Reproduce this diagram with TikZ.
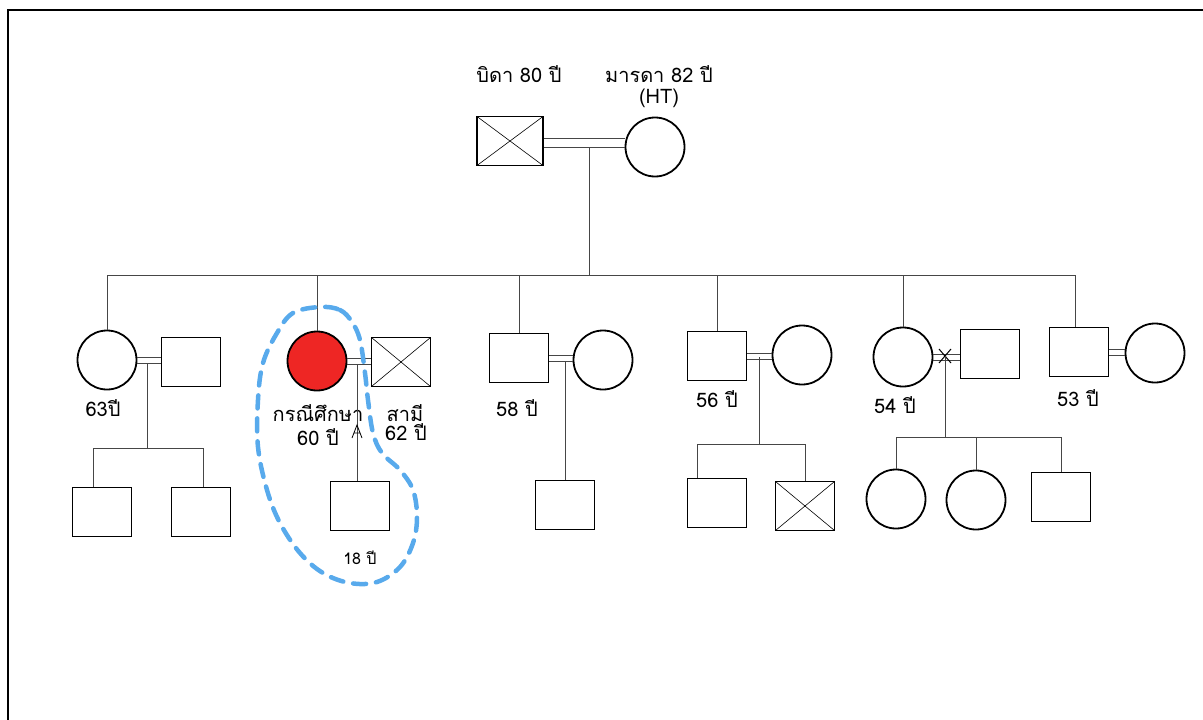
\documentclass[tikz,border=0pt]{standalone}
\usepackage{fontspec}
\setmainfont{Loma}[Script=Thai]
\definecolor{probandred}{RGB}{238,38,36}
\definecolor{groupblue}{RGB}{88,170,236}
\definecolor{linkgray}{RGB}{70,70,70}
\begin{document}
\begin{tikzpicture}[x=1pt,y=-1pt,
  male/.style={draw, line width=1.8pt, minimum width=59pt, minimum height=49pt, inner sep=0pt},
  female/.style={draw, circle, line width=1.8pt, minimum size=59pt, inner sep=0pt},
  deceased/.style={male, path picture={
      \draw[line width=0.6pt]
        (path picture bounding box.north west) -- (path picture bounding box.south east)
        (path picture bounding box.north east) -- (path picture bounding box.south west);}},
  link/.style={draw=linkgray, line width=0.9pt},
  lbl/.style={font=\fontsize{20}{24}\selectfont, inner sep=0pt},
  small/.style={font=\fontsize{16}{19}\selectfont, inner sep=0pt}]

\useasboundingbox (0,0) rectangle (1203,720);
\draw[line width=2.2pt] (8,720) -- (8,10) -- (1203,10);

% ---------- parents ----------
\node[deceased, minimum width=66pt] (fa) at (510,141) {};
\node[female] (mo) at (655,147) {};
\node[lbl] at (519,74) {บิดา 80 ปี};
\node[lbl] at (659,74) {มารดา 82 ปี};
\node[lbl] at (659,98) {(HT)};
\draw[link] ([yshift=3pt]fa.east) -- ([yshift=3pt]fa.east -| mo.west);
\draw[link] ([yshift=-6pt]fa.east) -- ([yshift=-6pt]fa.east -| mo.west);
\coordinate (fm) at (589,147);
\coordinate (sib) at (589,275);
\draw[link] (fm) -- (sib);

% ---------- siblings ----------
\node[female] (s1) at (107,360) {};
\node[male] (s1p) at (191,362) {};
\node[female, fill=probandred] (pt) at (317,361) {};
\node[deceased] (pth) at (401,362) {};
\node[male] (s3) at (519,358) {};
\node[female] (s3w) at (603,360) {};
\node[male] (s4) at (717,356) {};
\node[female] (s4w) at (802,355) {};
\node[female] (s5) at (903,357) {};
\node[male] (s5h) at (990,354) {};
\node[male] (s6) at (1079,352) {};
\node[female] (s6w) at (1155,353) {};

\draw[link] (s1.north |- sib) -- ([xshift=-4pt]s6.north |- sib);
\foreach \p in {s1,pt,s3,s4,s5}
  \draw[link] (\p.north |- sib) -- (\p.north);
\draw[link] ([xshift=-4pt]s6.north |- sib) -- ([xshift=-4pt]s6.north);

\node[lbl] at (103,408) {63ปี};
\node[lbl] at (318,413) {กรณีศึกษา};
\node[lbl] at (318,437) {60 ปี};
\node[lbl] at (405,413) {สามี};
\node[lbl] at (406,432) {62 ปี};
\node[lbl] at (517,408) {58 ปี};
\node[lbl] at (717,399) {56 ปี};
\node[lbl] at (895,405) {54 ปี};
\node[lbl] at (1078,398) {53 ปี};

% ---------- couples ----------
\foreach \a/\b in {s1/s1p, pt/pth, s3/s3w, s4/s4w, s5/s5h, s6/s6w} {
  \draw[link] ([yshift=3pt]\a.east) -- ([yshift=3pt]\a.east -| \b.west);
  \draw[link] ([yshift=-3pt]\a.east) -- ([yshift=-3pt]\a.east -| \b.west);
}
% divorce mark
\coordinate (dv) at (945,356);
\draw[line width=1pt] ([shift={(-6pt,-7pt)}]dv) -- ([shift={(6pt,7pt)}]dv)
                      ([shift={(-6pt,7pt)}]dv) -- ([shift={(6pt,-7pt)}]dv);

% ---------- grandchildren ----------
% first sibling
\node[male] (s1c1) at (102,512) {};
\node[male] (s1c2) at (201,512) {};
\coordinate (m1) at (147,363);
\coordinate (r1) at (147,448);
\draw[link] (m1) -- (r1);
\draw[link] ([xshift=-9pt]s1c1.north |- r1) -- ([xshift=2pt]s1c2.north |- r1);
\draw[link] ([xshift=-9pt]s1c1.north |- r1) -- ([xshift=-9pt]s1c1.north);
\draw[link] ([xshift=2pt]s1c2.north |- r1) -- ([xshift=2pt]s1c2.north);

% proband's son
\node[male] (ptc) at (360,506) {};
\node[small] at (360,558) {18 ปี};
\coordinate (m2) at (357,364);
\draw[link] (m2) -- (m2 |- ptc.north);
\draw[line width=0.8pt] (352,438) -- (357,425) -- (362,438) (354,433) -- (360,433);

% third sibling
\node[male] (s3c) at (565,505) {};
\coordinate (m3) at (565,362);
\draw[link] (m3) -- (s3c.north);

% fourth sibling
\node[male] (s4c1) at (717,503) {};
\node[deceased] (s4c2) at (805,506) {};
\coordinate (m4) at (759,357);
\coordinate (r4) at (759,444);
\draw[link] (m4) -- (r4);
\draw[link] ([xshift=-20pt]s4c1.north |- r4) -- (s4c2.north |- r4);
\draw[link] ([xshift=-20pt]s4c1.north |- r4) -- ([xshift=-20pt]s4c1.north);
\draw[link] (s4c2.north |- r4) -- (s4c2.north);

% fifth sibling
\node[female] (s5c1) at (896,499) {};
\node[female] (s5c2) at (976,500) {};
\node[male] (s5c3) at (1061,497) {};
\coordinate (r5) at (945,437);
\draw[link] (dv) -- (r5);
\draw[link] (s5c1.north |- r5) -- (s5c3.north |- r5);
\foreach \c in {s5c1,s5c2,s5c3}
  \draw[link] (\c.north |- r5) -- (\c.north);

% ---------- household outline ----------
\draw[groupblue, line width=4.5pt, dash pattern=on 13pt off 10pt, line cap=round]
  plot[smooth cycle, tension=0.6] coordinates {
    (320,307) (340,310) (352,322) (360,340) (365,373) (368,400) (373,433)
    (382,453) (400,470) (413,490) (417,517) (413,543) (400,567) (377,582)
    (350,583) (323,573) (300,553) (280,523) (267,490) (258,447) (258,400)
    (263,363) (277,333) (293,313)};
\end{tikzpicture}
\end{document}
